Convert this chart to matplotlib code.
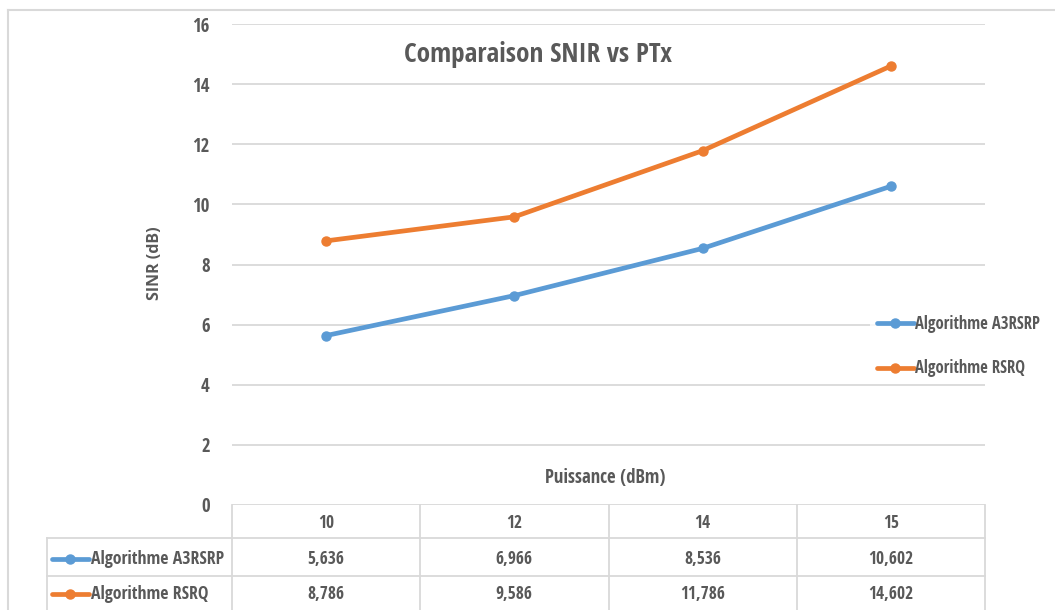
import matplotlib
matplotlib.use("Agg")
import matplotlib.pyplot as plt
from matplotlib.lines import Line2D
from matplotlib import transforms

# Transmit power levels (dBm) and measured SINR (dB) for both handover algorithms
puissance = ["10", "12", "14", "15"]
sinr_a3rsrp = [5.636, 6.966, 8.536, 10.602]
sinr_rsrq = [8.786, 9.586, 11.786, 14.602]
series_names = ["Algorithme A3RSRP", "Algorithme RSRQ"]

BLUE = "#5B9BD5"
ORANGE = "#ED7D31"
GRID = "#D9D9D9"
TEXT = "#595959"
FONT = ["Open Sans Condensed", "Roboto Condensed", "DejaVu Sans"]

W, H = 1055, 610


def fx(px):
    return px / W


def fy(py):
    return 1 - py / H


fig = plt.figure(figsize=(W / 100, H / 100), dpi=100)
fig.patch.set_facecolor("white")

# chart area border (left and top edges)
fig.add_artist(Line2D([fx(8), fx(8)], [fy(10), 0], color=GRID, lw=1.5))
fig.add_artist(Line2D([fx(8), 1], [fy(10), fy(10)], color=GRID, lw=1.5))

ax = fig.add_axes([fx(232), fy(505), fx(985) - fx(232), fy(24) - fy(505)])
ax.set_xlim(-0.5, len(puissance) - 0.5)
ax.set_ylim(0, 16)
ax.set_yticks(range(0, 17, 2))
ax.set_xticks([])
for s in ax.spines.values():
    s.set_visible(False)
ax.grid(axis="y", color=GRID, lw=1.3)
ax.set_axisbelow(True)
ax.tick_params(axis="y", length=0, pad=16, labelcolor=TEXT, labelsize=13.5)
for lab in ax.get_yticklabels():
    lab.set_fontfamily(FONT)
    lab.set_fontweight("bold")

x = list(range(len(puissance)))
l1, = ax.plot(x, sinr_a3rsrp, color=BLUE, lw=3.4, marker="o", ms=6.5,
              solid_capstyle="round", label=series_names[0])
l2, = ax.plot(x, sinr_rsrq, color=ORANGE, lw=3.4, marker="o", ms=6.5,
              solid_capstyle="round", label=series_names[1])

fig.text(fx(538), fy(55), "Comparaison SNIR vs PTx", ha="center", va="center",
         fontsize=19.5, fontweight="bold", color=TEXT, family=FONT)
fig.text(fx(155), fy(263), "SINR (dB)", ha="center", va="center", rotation=90,
         fontsize=11.5, fontweight="bold", color=TEXT, family=["Open Sans", "DejaVu Sans"])
fig.text(fx(605), fy(478), "Puissance (dBm)", ha="center", va="center",
         fontsize=13.5, fontweight="bold", color=TEXT, family=FONT)

leg = fig.legend(handles=[l1, l2], loc="center left",
                 bbox_to_anchor=(fx(862), fy(346)), frameon=True,
                 handlelength=2.2, handletextpad=0.1, labelspacing=1.6,
                 borderpad=0.4, prop={"family": FONT, "size": 12, "weight": "bold"})
leg.get_frame().set_facecolor("white")
leg.get_frame().set_edgecolor("none")
for t in leg.get_texts():
    t.set_color(TEXT)

# data table under the plot: columns follow the category positions
bt = transforms.blended_transform_factory(ax.transData, fig.transFigure)
edges = [i - 0.5 for i in range(len(puissance) + 1)]
row_lines = [505, 538, 576]
for py in row_lines[1:]:
    fig.add_artist(Line2D([fx(47), fx(985)], [fy(py), fy(py)], color=GRID, lw=1.3))
for e in edges:
    ax.add_artist(Line2D([e, e], [fy(505), 0], color=GRID, lw=1.3,
                         transform=bt, clip_on=False))
fig.add_artist(Line2D([fx(47), fx(47)], [fy(538), 0], color=GRID, lw=1.3))

for i, p in enumerate(puissance):
    ax.text(i, fy(523), p, transform=bt, ha="center", va="center", fontsize=12.5,
            fontweight="bold", color=TEXT, family=FONT, clip_on=False)
rows = [(sinr_a3rsrp, BLUE, 559), (sinr_rsrq, ORANGE, 594)]
for (vals, col, py), name in zip(rows, series_names):
    for i, v in enumerate(vals):
        ax.text(i, fy(py), f"{v:.3f}".replace(".", ","), transform=bt, ha="center",
                va="center", fontsize=12.5, fontweight="bold", color=TEXT,
                family=FONT, clip_on=False)
    fig.add_artist(Line2D([fx(52), fx(89)], [fy(py), fy(py)], color=col, lw=3.4,
                          solid_capstyle="round"))
    fig.add_artist(Line2D([fx(70)], [fy(py)], color=col, marker="o", ms=6.5, lw=0))
    fig.text(fx(91), fy(py), name, ha="left", va="center", fontsize=12.8,
             fontweight="bold", color=TEXT, family=FONT)

fig.savefig("out.png", dpi=100)
